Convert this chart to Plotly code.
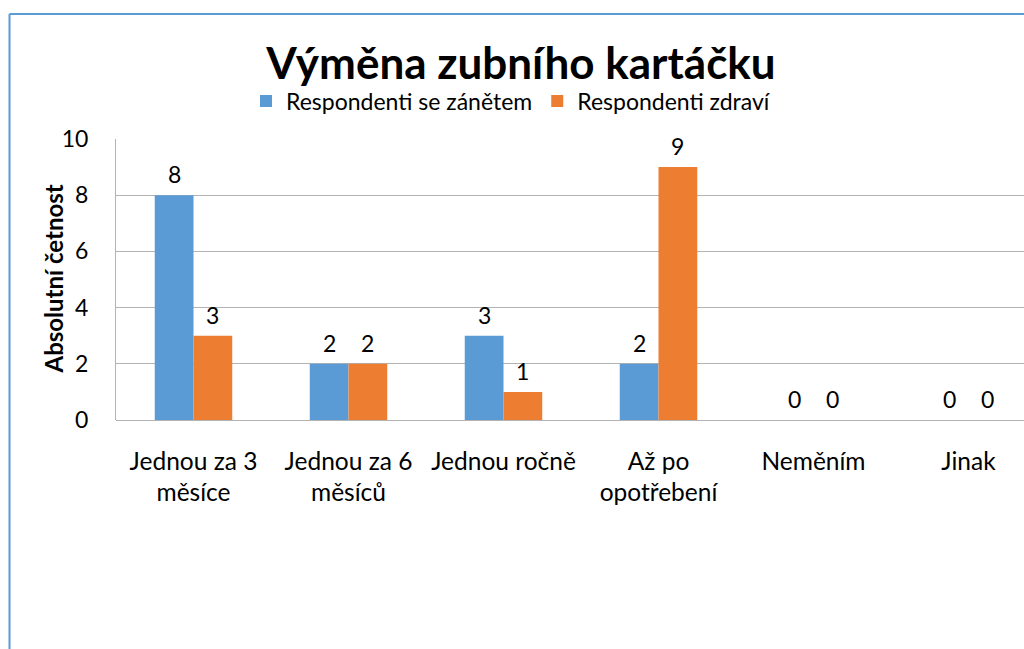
import plotly.graph_objects as go

categories = ["Jednou za 3<br>měsíce", "Jednou za 6<br>měsíců", "Jednou ročně",
              "Až po<br>opotřebení", "Neměním", "Jinak"]
series_names = ["Respondenti se zánětem", "Respondenti zdraví"]
inflamed = [8, 2, 3, 2, 0, 0]
healthy = [3, 2, 1, 9, 0, 0]
y_ticks = [0, 2, 4, 6, 8, 10]

FONT = "Lato"
BLUE = "#5B9BD5"
ORANGE = "#ED7D31"
GRID = "#b3b3b3"

W, H = 1024, 649
L, T, B = 116, 139, 420
PW = W - L
PH = B - T
cat_w = 155.0
x_hi = -0.5 + PW / cat_w
BARGAP = 0.5
half = (1 - BARGAP) / 4  # centre offset of each bar within its group

xs = list(range(len(categories)))

fig = go.Figure()
for name, vals, col in [(series_names[0], inflamed, BLUE), (series_names[1], healthy, ORANGE)]:
    fig.add_trace(go.Bar(
        x=xs, y=vals, name=name, marker=dict(color=col, line=dict(width=0)),
    ))

annotations = []
for sign, vals in [(-1, inflamed), (1, healthy)]:
    for i, v in zip(xs, vals):
        annotations.append(dict(x=i + sign * half, y=v, xref="x", yref="y", text=str(v),
                                showarrow=False, yshift=21, xanchor="center", yanchor="middle",
                                font=dict(family=FONT, size=23, color="#000000")))

annotations.append(dict(text="<b>Absolutní četnost</b>", textangle=-90, xref="paper", yref="paper",
                        x=(53 - L) / PW, y=0.5, xanchor="center", yanchor="middle", showarrow=False,
                        font=dict(family=FONT, size=24, color="#000000")))

fig.update_layout(
    width=W, height=H,
    margin=dict(l=L, r=0, t=T, b=H - B, pad=0),
    paper_bgcolor="white", plot_bgcolor="white",
    barmode="group", bargap=BARGAP, bargroupgap=0,
    font=dict(family=FONT, size=23, color="#000000"),
    title=dict(text="<b>Výměna zubního kartáčku</b>", x=521 / W, xanchor="center",
               y=1 - 64 / H, yanchor="middle", xref="container", yref="container",
               font=dict(family=FONT, size=44, color="#000000")),
    legend=dict(orientation="h", x=511 / W, xanchor="center", y=1 - 101 / H, yanchor="middle",
                xref="container", yref="container",
                font=dict(family=FONT, size=23, color="#000000"),
                itemwidth=30, tracegroupgap=0, traceorder="normal"),
    xaxis=dict(range=[-0.5, x_hi], tickmode="array", tickvals=xs, ticktext=categories,
               showgrid=False, showline=False, zeroline=False, ticks="",
               ticklabelstandoff=24,
               tickfont=dict(family=FONT, size=24.5), fixedrange=True),
    yaxis=dict(range=[0, 10], tickmode="array", tickvals=y_ticks,
               showgrid=True, gridcolor=GRID, gridwidth=1,
               showline=True, linecolor=GRID, linewidth=1,
               zeroline=True, zerolinecolor=GRID, zerolinewidth=1,
               ticks="", ticklabelstandoff=22,
               tickfont=dict(family=FONT, size=23)),
    annotations=annotations,
    shapes=[
        dict(type="line", xref="paper", yref="paper", x0=(9.5 - L) / PW, x1=(9.5 - L) / PW,
             y0=(B - 14) / PH, y1=(B - 700) / PH, line=dict(color=BLUE, width=2)),
        dict(type="line", xref="paper", yref="paper", x0=(9.5 - L) / PW, x1=(1100 - L) / PW,
             y0=(B - 14) / PH, y1=(B - 14) / PH, line=dict(color=BLUE, width=2)),
    ],
)

fig.write_html("out.html", config={"displayModeBar": False},
               post_script="document.body.style.margin='0';document.body.style.overflow='hidden';")
